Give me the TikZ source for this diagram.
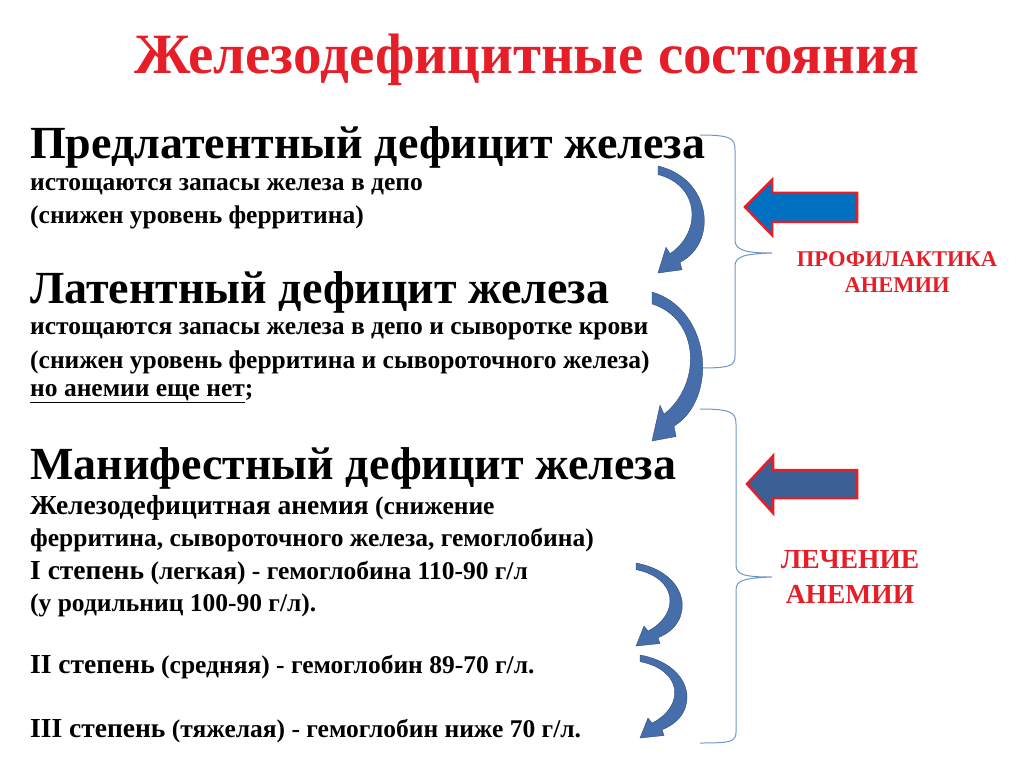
\documentclass[tikz,border=0pt]{standalone}
\usepackage{fontspec}
\setmainfont{Liberation Serif}
\definecolor{titred}{RGB}{230,30,40}
\definecolor{lblue}{RGB}{0,112,192}
\definecolor{dblue}{RGB}{60,96,150}
\definecolor{cblue}{RGB}{70,110,170}
\definecolor{brc}{RGB}{110,150,200}
\begin{document}
\begin{tikzpicture}[x=1pt,y=-1pt,
  txt/.style={anchor=west,inner sep=0pt,font=\bfseries\fontsize{25.5}{27}\selectfont},
  head/.style={anchor=west,inner sep=0pt,font=\bfseries\fontsize{46}{50}\selectfont},
  lbl/.style={inner sep=0pt,text=titred,font=\bfseries\fontsize{22.5}{24}\selectfont},
  blk/.style={draw=titred,line width=2.5pt,line join=miter},
  brace/.style={draw=brc,line width=1pt}]
\useasboundingbox (0,0) rectangle (1024,767);
\node[inner sep=0pt,text=titred,font=\bfseries\fontsize{57}{60}\selectfont] (title) at (527,60) {Железодефицитные состояния};
\node[head] (h1) at (30,147) {Предлатентный дефицит железа};
\node[txt] (a1) at (30,187) {истощаются запасы железа в депо};
\node[txt] (a2) at (30,217) {(снижен уровень ферритина)};
\node[head] (h2) at (30,292) {Латентный дефицит железа};
\node[txt] (b1) at (30,331) {истощаются запасы железа в депо и сыворотке крови};
\node[txt] (b2) at (30,362) {(снижен уровень ферритина и сывороточного железа)};
\node[txt] (b3) at (30,394) {\underline{но анемии еще нет};};
\node[head] (h3) at (30,468) {Манифестный дефицит железа};
\node[txt] (c1) at (30,508) {{\fontsize{27.5}{29}\selectfont Железодефицитная анемия} (снижение};
\node[txt] (c2) at (30,540) {ферритина, сывороточного железа, гемоглобина)};
\node[txt] (c3) at (30,573) {{\fontsize{27.5}{29}\selectfont I степень} (легкая) - гемоглобина 110-90 г/л};
\node[txt] (c4) at (30,605) {(у родильниц 100-90 г/л).};
\node[txt] (c5) at (30,667) {{\fontsize{27.5}{29}\selectfont II степень} (средняя) - гемоглобин 89-70 г/л.};
\node[txt] (c6) at (30,731) {{\fontsize{27.5}{29}\selectfont III степень} (тяжелая) - гемоглобин ниже 70 г/л.};
% braces
\draw[brace] (700,135) .. controls (730,135) and (735,138) .. (735,150) -- (735,240) .. controls (735,250) and (745,253) .. (772,253)
  .. controls (745,254) and (735,256) .. (735,266) -- (735,356) .. controls (735,366) and (730,368) .. (700,368);
\draw[brace] (700,409) .. controls (730,409) and (736,412) .. (736,424) -- (736,565) .. controls (736,575) and (745,577) .. (772,577)
  .. controls (745,578) and (736,580) .. (736,590) -- (736,732) .. controls (736,742) and (730,743) .. (700,743);
% curved arrows: #1 x, #2 ytop, #3 ytip, #4 bulge x
\newcommand\curvarr[4]{%
 \pgfmathsetmacro\ya{#2}\pgfmathsetmacro\yb{#3}\pgfmathsetmacro\h{#3-#2}%
 \fill[cblue,draw=cblue!70!black,line width=0.4pt]
  (#1,\ya) .. controls (#4,\ya+0.12*\h) and (#4+6,\ya+0.72*\h) .. (#1+22,\yb-0.1*\h)
  -- (#1+24,\yb-0.03*\h) -- (#1,\yb) -- (#1+8,\yb-0.24*\h) -- (#1+12,\yb-0.18*\h)
  .. controls (#4-10,\ya+0.62*\h) and (#4-12,\ya+0.18*\h) .. (#1,\ya+0.08*\h) -- cycle;}
\curvarr{658}{166}{273}{712}
\curvarr{652}{292}{441}{712}
\curvarr{636}{563}{646}{690}
\curvarr{640}{655}{738}{695}
% block arrows
\path[blk,fill=lblue] (745,207) -- (772,180) -- (772,193) -- (857,193) -- (857,222) -- (772,222) -- (772,235) -- cycle;
\path[blk,fill=dblue] (747,484) -- (773,456) -- (773,470) -- (857,470) -- (857,498) -- (773,498) -- (773,513) -- cycle;
\node[lbl] (p1) at (897,259) {ПРОФИЛАКТИКА};
\node[lbl] (p2) at (897,285) {АНЕМИИ};
\node[lbl,font=\bfseries\fontsize{27.5}{29}\selectfont] (l1) at (850,560) {ЛЕЧЕНИЕ};
\node[lbl,font=\bfseries\fontsize{27.5}{29}\selectfont] (l2) at (850,594) {АНЕМИИ};
\end{tikzpicture}
\end{document}
